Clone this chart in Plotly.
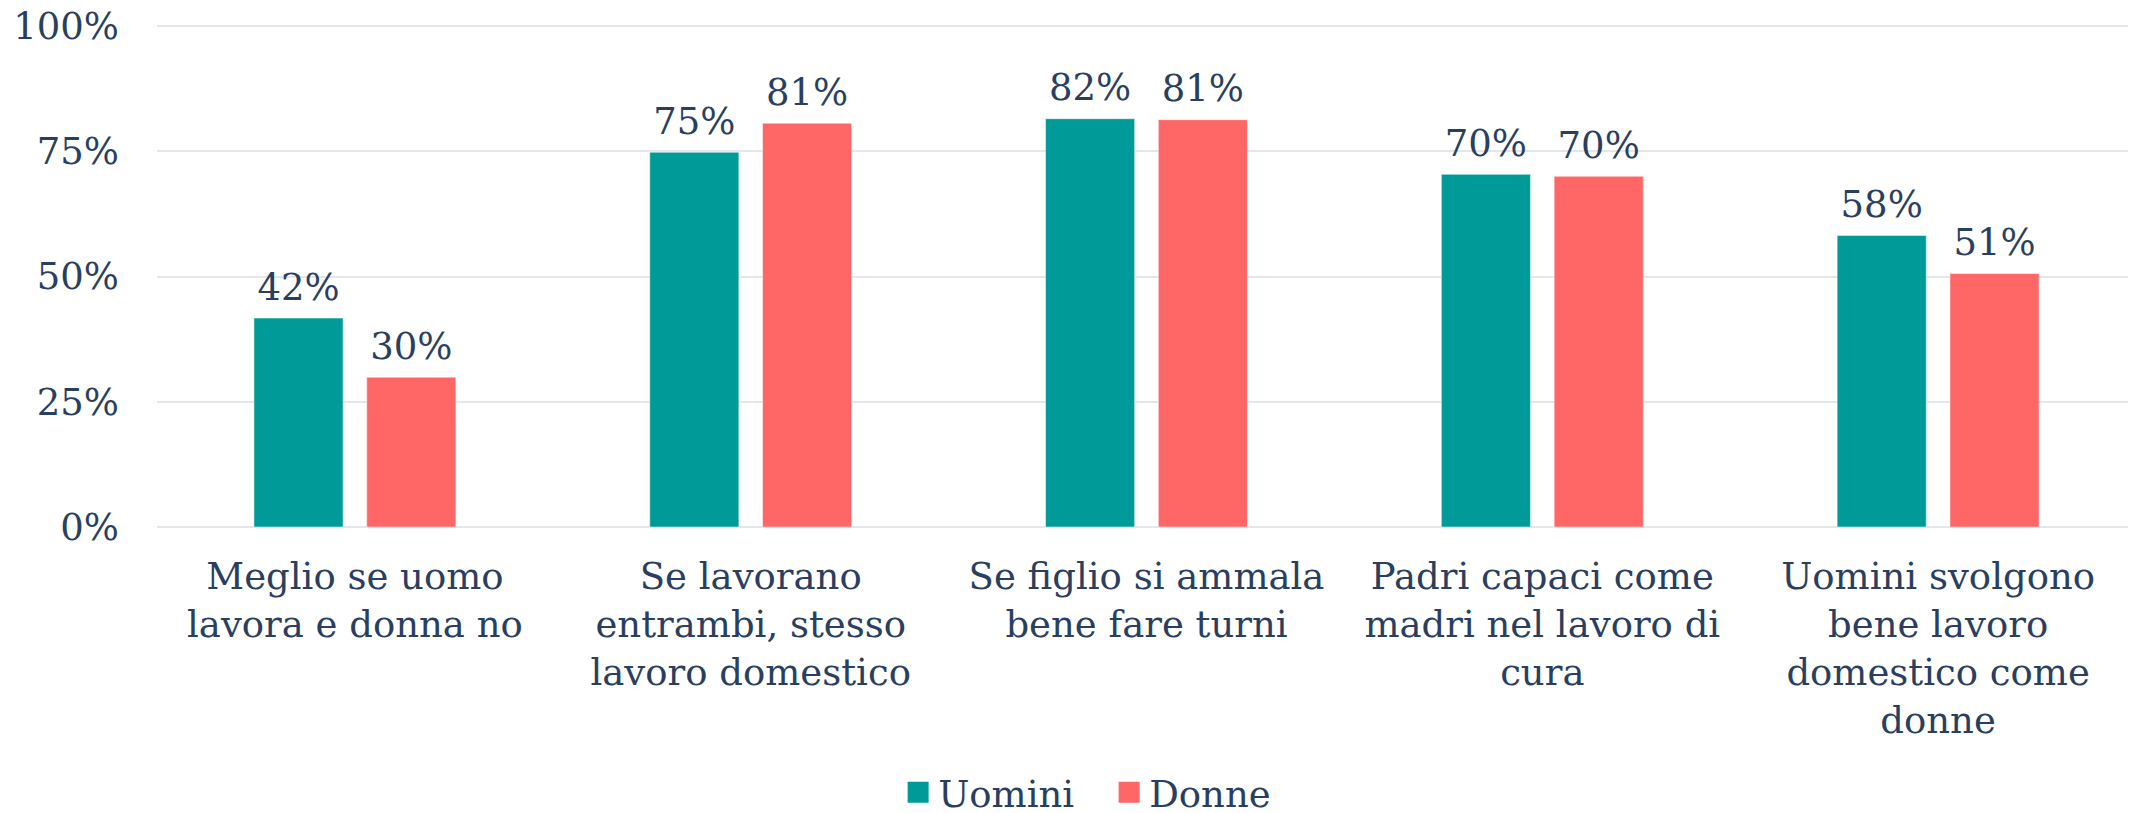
import plotly.graph_objects as go

categories = [
    "Meglio se uomo<br>lavora e donna no",
    "Se lavorano<br>entrambi, stesso<br>lavoro domestico",
    "Se figlio si ammala<br>bene fare turni",
    "Padri capaci come<br>madri nel lavoro di<br>cura",
    "Uomini svolgono<br>bene lavoro<br>domestico come<br>donne",
]
uomini = [41.7, 74.8, 81.5, 70.4, 58.2]
donne = [29.9, 80.6, 81.3, 70.0, 50.6]
y_ticks = [0, 25, 50, 75, 100]
y_ticktext = ["0%", "25%", "50%", "75%", "100%"]

TEAL = "#009a98"
CORAL = "#ff6666"
FONT = dict(family="Georgia, 'DejaVu Serif', serif", size=37, color="#2a3f5f")
GRID = "#E3E7ED"

fig = go.Figure()
for nm, vals, col, grp in [("Uomini", uomini, TEAL, "u"), ("Donne", donne, CORAL, "d")]:
    fig.add_trace(go.Bar(name=nm, x=categories, y=vals, marker_color=col,
                         showlegend=False, legendgroup=grp, hoverinfo="y"))
# value labels, grouped like the bars
for nm, vals, grp in [("Uomini", uomini, "u"), ("Donne", donne, "d")]:
    fig.add_trace(go.Scatter(name=nm, x=categories, y=vals, mode="markers+text",
                             marker=dict(size=13, color="rgba(0,0,0,0)"),
                             texttemplate="%{y:.0f}%", textposition="top center",
                             textfont=FONT, cliponaxis=False, showlegend=False,
                             alignmentgroup="labels", offsetgroup=grp,
                             legendgroup=grp, hoverinfo="skip"))
# legend entries with larger square symbols
for nm, col, grp in [("Uomini", TEAL, "u"), ("Donne", CORAL, "d")]:
    fig.add_trace(go.Scatter(name=nm, x=[None], y=[None], mode="markers",
                             marker=dict(symbol="square", size=16, color=col,
                                         line=dict(color=col, width=5)),
                             alignmentgroup="legend", offsetgroup="leg",
                             legendgroup=grp, showlegend=True))

fig.update_layout(
    template="plotly_white",
    width=2128, height=805,
    margin=dict(l=149, r=0, t=16, b=286, autoexpand=False),
    font=FONT,
    barmode="group",
    bargap=0.43,
    bargroupgap=0.21,
    scattermode="group",
    scattergap=0.43,
    showlegend=True,
    legend=dict(orientation="h", xanchor="left", x=0.3745, yanchor="bottom", y=-0.590,
                font=FONT, bgcolor="rgba(0,0,0,0)",
                entrywidth=166, entrywidthmode="pixels"),
    paper_bgcolor="white",
    plot_bgcolor="white",
)
fig.update_yaxes(range=[0, 100.4], tickvals=y_ticks, ticktext=y_ticktext,
                 gridcolor=GRID, gridwidth=1.5, zerolinecolor=GRID, zerolinewidth=2,
                 ticklabelstandoff=37, ticklabeloverflow="allow", tickfont=FONT)
fig.update_xaxes(tickfont=FONT, showgrid=False, ticklabelstandoff=24)

fig.write_html("out.html")
